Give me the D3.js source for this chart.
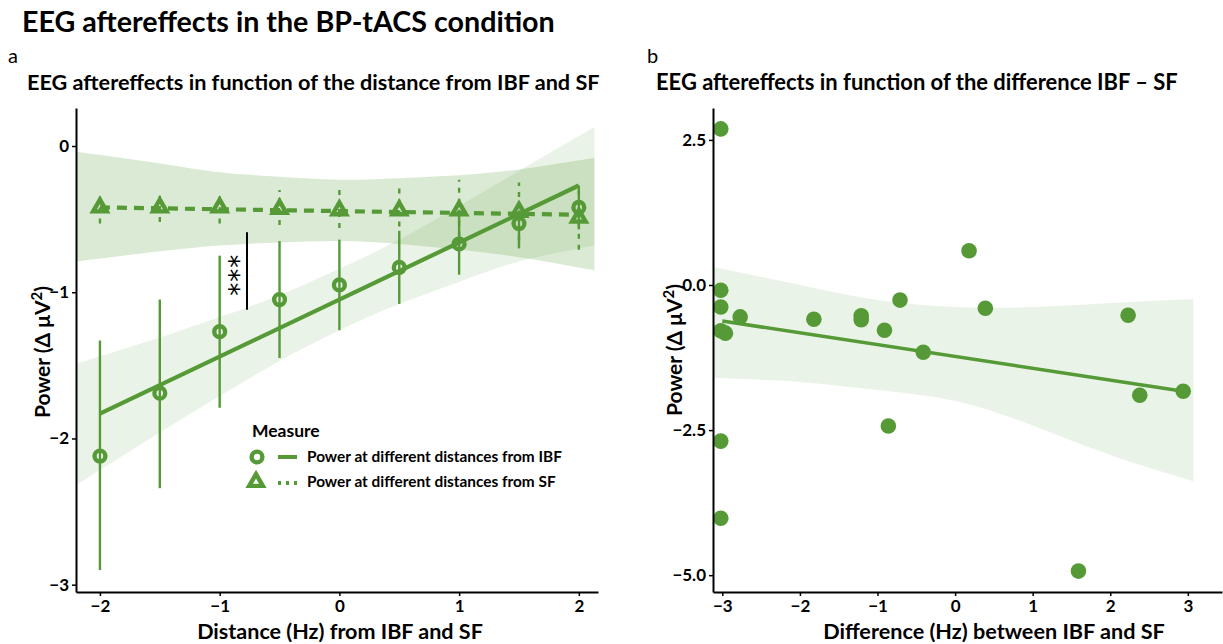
<!DOCTYPE html>
<html><head><meta charset="utf-8">
<script src="https://cdn.jsdelivr.net/npm/d3@7"></script>
<style>
body{margin:0;background:#fff}
svg{display:block}
text{font-family:Lato,"Open Sans","Noto Sans",sans-serif;fill:#000}
</style>
</head><body>
<svg id="c" width="1223" height="644"></svg>
<script>
// ---------- Panel a data ----------
const distances = [-2, -1.5, -1, -0.5, 0, 0.5, 1, 1.5, 2];
const ibfMean = [-2.12, -1.69, -1.27, -1.05, -0.95, -0.83, -0.67, -0.53, -0.42];
const ibfLow  = [-2.90, -2.34, -1.79, -1.45, -1.26, -1.08, -0.88, -0.70, -0.57];
const ibfHigh = [-1.33, -1.05, -0.75, -0.65, -0.64, -0.58, -0.44, -0.44, -0.27];
const sfMean  = [-0.42, -0.42, -0.42, -0.43, -0.44, -0.44, -0.44, -0.45, -0.49];
const sfLow   = [-0.53, -0.52, -0.53, -0.54, -0.56, -0.55, -0.62, -0.65, -0.71];
const sfHigh  = [-0.32, -0.34, -0.32, -0.30, -0.30, -0.27, -0.23, -0.25, -0.30];
// fitted lines (endpoints at x = -2 and 2)
const fitX = [-2, 2];
const ibfFit = [-1.83, -0.27];
const sfFit = [-0.42, -0.47];
// confidence bands
const bandAX = [-2.2, -1.5, -1, -0.5, 0, 0.5, 1, 1.5, 2.13];
const ibfBandHigh = [-1.49, -1.31, -1.17, -1.02, -0.84, -0.64, -0.41, -0.17, 0.13];
const ibfBandLow  = [-2.32, -1.96, -1.71, -1.47, -1.26, -1.08, -0.93, -0.79, -0.68];
const sfBandHigh  = [-0.04, -0.12, -0.18, -0.21, -0.23, -0.22, -0.20, -0.16, -0.08];
const sfBandLow   = [-0.79, -0.72, -0.68, -0.66, -0.65, -0.67, -0.71, -0.76, -0.85];
const yTicksA = [0, -1, -2, -3];
const xTicksA = [-2, -1, 0, 1, 2];

// ---------- Panel b data ----------
const diffHz = [-3.02, -3.02, -3.02, -3.02, -2.96, -2.77, -1.82, -1.21, -1.21, -0.91, -0.71, -0.41, 0.18, 0.39, 2.23, 2.38, 2.94, 1.59, -3.02, -0.86, -3.02];
const powerB = [2.69, -0.09, -0.38, -0.79, -0.83, -0.55, -0.59, -0.53, -0.60, -0.78, -0.26, -1.16, 0.59, -0.40, -0.52, -1.90, -1.83, -4.93, -2.69, -2.43, -4.02];
const fitBX = [-3.0, 2.94];
const fitBY = [-0.62, -1.83];
const bandBX = [-3.12, -2, -1, 0, 1, 2, 3.07];
const bandBHigh = [0.31, 0.0, -0.26, -0.38, -0.38, -0.31, -0.24];
const bandBLow  = [-1.60, -1.67, -1.81, -2.0, -2.42, -2.93, -3.38];
const yTicksB = [2.5, 0, -2.5, -5];
const xTicksB = [-3, -2, -1, 0, 1, 2, 3];

const green = "#559a36";
const svg = d3.select("#c");

function fit(sel, w) {
  const cur = parseFloat(sel.attr("font-size"));
  const L = sel.node().getComputedTextLength();
  sel.attr("font-size", cur * w / L);
  return sel;
}

// ---------- Titles ----------
fit(svg.append("text").attr("x", 22).attr("y", 32).attr("font-size", 25).attr("font-weight", 700)
  .text("EEG aftereffects in the BP-tACS condition"), 533);
svg.append("text").attr("x", 8).attr("y", 63).attr("font-size", 20).text("a");
svg.append("text").attr("x", 647).attr("y", 63).attr("font-size", 20).text("b");
fit(svg.append("text").attr("x", 27).attr("y", 90).attr("font-size", 19).attr("font-weight", 700)
  .text("EEG aftereffects in function of the distance from IBF and SF"), 573);
fit(svg.append("text").attr("x", 656).attr("y", 90).attr("font-size", 19).attr("font-weight", 700)
  .text("EEG aftereffects in function of the difference IBF \u2013 SF"), 522);

// ---------- Panel a ----------
const xA = d3.scaleLinear().domain([-2.2, 2.16]).range([76, 598]);
const yA = d3.scaleLinear().domain([-3.05, 0.26]).range([592, 108]);
const gA = svg.append("g");

const bandIdx = d3.range(bandAX.length);
const areaA = (hi, lo) => d3.area().x(i => xA(bandAX[i])).y0(i => yA(lo[i])).y1(i => yA(hi[i])).curve(d3.curveNatural);
gA.append("path").attr("d", areaA(sfBandHigh, sfBandLow)(bandIdx)).attr("fill", green).attr("fill-opacity", 0.21);
gA.append("path").attr("d", areaA(ibfBandHigh, ibfBandLow)(bandIdx)).attr("fill", green).attr("fill-opacity", 0.12);

const idx = d3.range(distances.length);
// error bars
gA.selectAll(".ebi").data(idx).join("line")
  .attr("x1", i => xA(distances[i])).attr("x2", i => xA(distances[i]))
  .attr("y1", i => yA(ibfLow[i])).attr("y2", i => yA(ibfHigh[i]))
  .attr("stroke", green).attr("stroke-width", 2.4);
gA.selectAll(".ebs").data(idx).join("line")
  .attr("x1", i => xA(distances[i])).attr("x2", i => xA(distances[i]))
  .attr("y1", i => yA(sfLow[i])).attr("y2", i => yA(sfHigh[i]))
  .attr("stroke", green).attr("stroke-width", 2.4).attr("stroke-dasharray", "5,6");

// fitted lines
const lineA = d3.line().x(d => xA(d[0])).y(d => yA(d[1]));
gA.append("path").attr("d", lineA(d3.zip(fitX, ibfFit))).attr("stroke", green).attr("stroke-width", 4.2).attr("fill", "none");
gA.append("path").attr("d", lineA(d3.zip(fitX, sfFit))).attr("stroke", green).attr("stroke-width", 4.2).attr("fill", "none").attr("stroke-dasharray", "10,7");

// points
gA.selectAll(".pi").data(idx).join("circle")
  .attr("cx", i => xA(distances[i])).attr("cy", i => yA(ibfMean[i])).attr("r", 5.4)
  .attr("fill", "none").attr("stroke", green).attr("stroke-width", 4.4);
const tri = d3.symbol().type(d3.symbolTriangle).size(80);
gA.selectAll(".ps").data(idx).join("path")
  .attr("transform", i => `translate(${xA(distances[i])},${yA(sfMean[i])})`).attr("d", tri())
  .attr("fill", "none").attr("stroke", green).attr("stroke-width", 4.4).attr("stroke-linejoin", "miter");

// significance
gA.append("line").attr("x1", 247).attr("x2", 247).attr("y1", yA(-0.59)).attr("y2", yA(-1.12)).attr("stroke", "#000").attr("stroke-width", 2);
svg.append("text").attr("transform", "translate(248," + yA(-0.88) + ") rotate(-90)")
  .attr("text-anchor", "middle").attr("font-size", 26).attr("letter-spacing", 1)
  .style("font-family", "DejaVu Sans").text("***");

// axes
function styleAxis(g) {
  g.select(".domain").attr("stroke", "#000").attr("stroke-width", 2);
  g.selectAll(".tick line").attr("stroke", "#000").attr("stroke-width", 1.5);
  g.selectAll(".tick text").attr("font-size", 17).attr("font-weight", 700).attr("fill", "#000")
    .style("font-family", "Lato,'Open Sans',sans-serif");
}
svg.append("g").attr("transform", "translate(76,0)")
  .call(d3.axisLeft(yA).tickValues(yTicksA).tickFormat(d3.format("d")).tickSize(4).tickSizeOuter(0).tickPadding(3))
  .call(styleAxis);
svg.append("g").attr("transform", "translate(0,592)")
  .call(d3.axisBottom(xA).tickValues(xTicksA).tickFormat(d3.format("d")).tickSize(4).tickSizeOuter(0).tickPadding(4))
  .call(styleAxis);

// axis titles
const ytA = svg.append("text").attr("transform", "translate(50,352) rotate(-90)").attr("text-anchor", "middle")
  .attr("font-size", 21).attr("font-weight", 700);
ytA.append("tspan").text("Power (\u0394 \u03bcV");
ytA.append("tspan").attr("dy", -8).attr("font-size", 15).text("2");
ytA.append("tspan").attr("dy", 8).text(")");
fit(svg.append("text").attr("x", 340).attr("y", 639).attr("text-anchor", "middle")
  .attr("font-size", 21).attr("font-weight", 700).text("Distance (Hz) from IBF and SF"), 286);

// legend
svg.append("text").attr("x", 252).attr("y", 437).attr("font-size", 17.5).attr("font-weight", 700).text("Measure");
svg.append("circle").attr("cx", 257).attr("cy", 457).attr("r", 5.4).attr("fill", "none").attr("stroke", green).attr("stroke-width", 4.4);
svg.append("line").attr("x1", 278).attr("x2", 297).attr("y1", 457).attr("y2", 457).attr("stroke", green).attr("stroke-width", 4);
svg.append("path").attr("transform", "translate(256,482)").attr("d", tri()).attr("fill", "none").attr("stroke", green).attr("stroke-width", 4.4);
svg.append("line").attr("x1", 278).attr("x2", 297).attr("y1", 483).attr("y2", 483).attr("stroke", green).attr("stroke-width", 4).attr("stroke-dasharray", "3,5");
fit(svg.append("text").attr("x", 307).attr("y", 462).attr("font-size", 14).attr("font-weight", 700)
  .text("Power at different distances from IBF"), 255);
fit(svg.append("text").attr("x", 307).attr("y", 487).attr("font-size", 14).attr("font-weight", 700)
  .text("Power at different distances from SF"), 249);

// ---------- Panel b ----------
const xB = d3.scaleLinear().domain([-3.12, 3.44]).range([713, 1222]);
const yB = d3.scaleLinear().domain([-5.29, 3.05]).range([592, 108]);
const gB = svg.append("g");
const bIdx = d3.range(bandBX.length);
gB.append("path").attr("d", d3.area().x(i => xB(bandBX[i])).y0(i => yB(bandBLow[i])).y1(i => yB(bandBHigh[i])).curve(d3.curveNatural)(bIdx))
  .attr("fill", green).attr("fill-opacity", 0.12);
gB.append("path").attr("d", d3.line().x(d => xB(d[0])).y(d => yB(d[1]))(d3.zip(fitBX, fitBY)))
  .attr("stroke", green).attr("stroke-width", 3.6).attr("fill", "none");
gB.selectAll(".pb").data(d3.range(diffHz.length)).join("circle")
  .attr("cx", i => xB(diffHz[i])).attr("cy", i => yB(powerB[i])).attr("r", 7.8).attr("fill", green);

svg.append("g").attr("transform", "translate(713,0)")
  .call(d3.axisLeft(yB).tickValues(yTicksB).tickFormat(d3.format(".1f")).tickSize(4).tickSizeOuter(0).tickPadding(3))
  .call(styleAxis);
svg.append("g").attr("transform", "translate(0,592)")
  .call(d3.axisBottom(xB).tickValues(xTicksB).tickFormat(d3.format("d")).tickSize(4).tickSizeOuter(0).tickPadding(4))
  .call(styleAxis);

const ytB = svg.append("text").attr("transform", "translate(682,350) rotate(-90)").attr("text-anchor", "middle")
  .attr("font-size", 21).attr("font-weight", 700);
ytB.append("tspan").text("Power (\u0394 \u03bcV");
ytB.append("tspan").attr("dy", -8).attr("font-size", 15).text("2");
ytB.append("tspan").attr("dy", 8).text(")");
fit(svg.append("text").attr("x", 994).attr("y", 639).attr("text-anchor", "middle")
  .attr("font-size", 21).attr("font-weight", 700).text("Difference (Hz) between IBF and SF"), 342);
</script>
</body></html>
